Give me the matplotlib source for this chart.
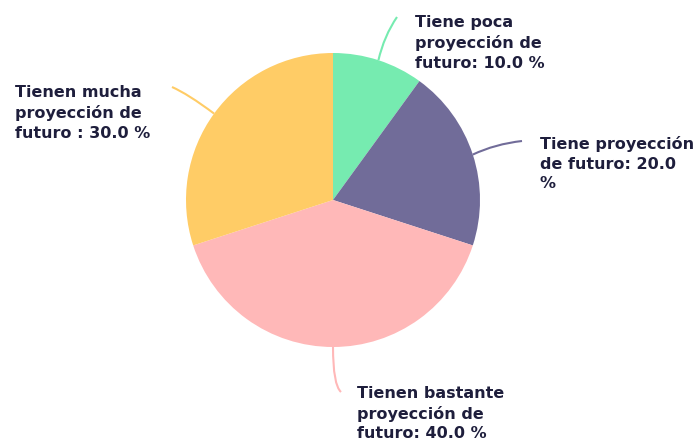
import numpy as np
import matplotlib
matplotlib.use("Agg")
import matplotlib.pyplot as plt
from matplotlib.path import Path
from matplotlib.patches import PathPatch

labels = ["Tiene poca\nproyección de\nfuturo: 10.0 %",
          "Tiene proyección\nde futuro: 20.0\n%",
          "Tienen bastante\nproyección de\nfuturo: 40.0 %",
          "Tienen mucha\nproyección de\nfuturo : 30.0 %"]
values = [10.0, 20.0, 40.0, 30.0]
colors = ["#76ebb0", "#716c99", "#ffb8b8", "#ffcc66"]

# label anchor (top-left, in pixels from top) and end of leader line
label_pos = [(415, 15), (540, 136), (357, 386), (15, 85)]
line_end = [(397, 17), (522, 141), (341, 392), (172, 87)]
line_ctrl = [(384, 36), (495, 144), (333, 385), (188, 94)]

W, H = 700, 446
cx, cy, r = 333, 200, 147

fig = plt.figure(figsize=(W / 100, H / 100), dpi=100)
ax = fig.add_axes([0, 0, 1, 1])

wedges, _ = ax.pie(values, colors=colors, startangle=90, counterclock=False,
                   center=(cx, H - cy), radius=r, frame=True)
ax.set_xlim(0, W)
ax.set_ylim(0, H)
ax.set_aspect("equal")
ax.axis("off")

for w, lab, lp, le, lc, col in zip(wedges, labels, label_pos, line_end, line_ctrl, colors):
    mid = np.deg2rad((w.theta1 + w.theta2) / 2)
    sx = cx + r * np.cos(mid)
    sy = (H - cy) + r * np.sin(mid)
    path = Path([(sx, sy), (lc[0], H - lc[1]), (le[0], H - le[1])],
                [Path.MOVETO, Path.CURVE3, Path.CURVE3])
    ax.add_patch(PathPatch(path, fill=False, edgecolor=col, lw=1.5))
    ax.text(lp[0], H - lp[1], lab, ha="left", va="top", fontsize=11.5,
            fontweight="bold", color="#1e1e3c", linespacing=1.38,
            family="DejaVu Sans")

fig.savefig("out.png", dpi=100)
